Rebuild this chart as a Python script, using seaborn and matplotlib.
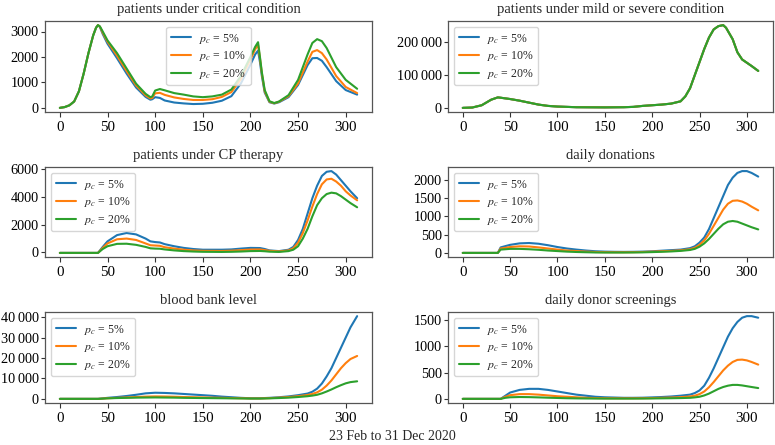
import numpy as np
import pandas as pd
import matplotlib
matplotlib.use("Agg")
import matplotlib.pyplot as plt
import seaborn as sns
from matplotlib.ticker import FuncFormatter

# ---------------- data ----------------
labels = [r"$p_c$ = 5%", r"$p_c$ = 10%", r"$p_c$ = 20%"]

crit_days = [0, 5, 10, 15, 20, 25, 30, 35, 38, 40, 42, 45, 50, 60, 70, 80, 90, 95, 97, 100, 105, 110, 120,
             130, 140, 150, 160, 170, 180, 190, 200, 205, 208, 210, 212, 215, 220, 225, 230, 240, 250, 260,
             265, 270, 275, 280, 290, 300, 312]
crit_5 = [0, 30, 100, 250, 650, 1350, 2150, 2850, 3150, 3250, 3180, 2900, 2520, 1950, 1350, 800, 430, 320,
          340, 420, 390, 290, 210, 175, 150, 160, 200, 280, 460, 960, 1700, 2100, 2250, 1800, 1250, 600,
          220, 170, 220, 420, 900, 1680, 1950, 1960, 1850, 1600, 1050, 700, 520]
crit_10 = [0, 30, 100, 250, 650, 1350, 2150, 2850, 3150, 3250, 3190, 2950, 2600, 2050, 1450, 880, 490, 370,
           390, 570, 590, 510, 410, 350, 310, 310, 340, 430, 620, 1130, 1900, 2300, 2480, 1950, 1350, 650,
           240, 180, 240, 460, 960, 1820, 2200, 2270, 2150, 1900, 1250, 820, 580]
crit_20 = [0, 30, 100, 250, 650, 1350, 2150, 2850, 3150, 3250, 3200, 3000, 2650, 2150, 1550, 950, 550, 420,
           450, 680, 740, 690, 580, 520, 450, 420, 450, 520, 720, 1250, 2000, 2400, 2580, 2000, 1400, 700,
           260, 190, 250, 500, 1100, 2100, 2550, 2700, 2620, 2350, 1600, 1100, 750]

mild_days = [0, 10, 20, 30, 37, 40, 50, 60, 70, 80, 90, 100, 120, 150, 170, 180, 190, 200, 210, 220, 230,
             235, 240, 245, 250, 255, 260, 265, 270, 275, 278, 285, 290, 295, 300, 305, 312]
mild_all = [0, 1000, 8000, 25000, 32000, 31000, 27000, 22000, 16000, 10000, 6000, 4000, 2000, 1500, 2000,
            3000, 6000, 8000, 10000, 13000, 20000, 35000, 60000, 100000, 140000, 180000, 215000, 240000,
            250000, 253000, 245000, 210000, 170000, 148000, 138000, 128000, 113000]

cp_days = [0, 40, 45, 50, 60, 70, 80, 90, 95, 100, 105, 110, 120, 130, 140, 150, 170, 180, 190, 200, 210,
           215, 220, 230, 240, 245, 250, 255, 260, 265, 270, 275, 280, 285, 290, 295, 300, 305, 312]
cp_5 = [-30, -30, 400, 800, 1250, 1400, 1300, 1000, 800, 750, 720, 600, 450, 330, 250, 200, 200, 220, 280,
        330, 320, 250, 150, 100, 200, 400, 900, 1700, 2800, 3900, 4800, 5500, 5800, 5850, 5600, 5200,
        4800, 4400, 3900]
cp_10 = [-30, -30, 330, 650, 950, 1000, 900, 650, 520, 500, 480, 380, 280, 200, 150, 120, 110, 130, 170,
         210, 220, 170, 120, 80, 150, 300, 700, 1400, 2300, 3300, 4200, 4900, 5250, 5300, 5100, 4800,
         4400, 4100, 3750]
cp_20 = [-30, -30, 250, 450, 620, 630, 550, 400, 300, 280, 270, 220, 150, 100, 70, 50, 40, 50, 70, 100,
         110, 90, 60, 40, 100, 200, 450, 1000, 1700, 2600, 3400, 3900, 4200, 4300, 4250, 4050, 3800, 3550,
         3250]

don_days = [0, 37, 40, 50, 60, 70, 80, 90, 100, 110, 120, 130, 140, 150, 160, 170, 180, 190, 200, 210, 220,
            230, 240, 245, 250, 255, 260, 265, 270, 275, 280, 285, 290, 295, 300, 305, 312]
don_5 = [0, 0, 150, 220, 260, 270, 250, 210, 160, 120, 90, 65, 45, 35, 30, 28, 30, 35, 45, 60, 75, 90, 130,
         180, 280, 420, 650, 950, 1250, 1550, 1850, 2050, 2180, 2230, 2230, 2180, 2080]
don_10 = [0, 0, 120, 160, 180, 175, 150, 120, 90, 65, 50, 35, 25, 20, 18, 18, 20, 25, 35, 45, 55, 70, 100,
          140, 220, 340, 520, 740, 960, 1180, 1340, 1420, 1430, 1400, 1340, 1260, 1160]
don_20 = [0, 0, 90, 110, 110, 100, 85, 65, 50, 35, 25, 18, 12, 10, 10, 10, 12, 15, 22, 30, 40, 55, 80, 110,
          170, 260, 380, 520, 660, 780, 850, 870, 850, 800, 750, 700, 640]

bank_days = [0, 40, 50, 60, 70, 80, 90, 100, 110, 120, 130, 140, 150, 160, 170, 180, 190, 200, 210, 220, 230,
             240, 250, 260, 265, 270, 275, 280, 285, 290, 295, 300, 305, 312]
bank_5 = [0, 0, 500, 900, 1400, 2000, 2700, 3000, 2900, 2700, 2400, 2100, 1800, 1500, 1100, 800, 500, 300,
          300, 500, 800, 1200, 1800, 2600, 3500, 5000, 7500, 11000, 15000, 20000, 25000, 30000, 35000, 40500]
bank_10 = [0, 0, 300, 500, 700, 900, 1100, 1200, 1150, 1050, 900, 800, 700, 600, 500, 400, 300, 200, 200,
           350, 600, 900, 1300, 1900, 2400, 3200, 4500, 6500, 9000, 12000, 15000, 17500, 19500, 21000]
bank_20 = [0, 0, 250, 400, 500, 600, 650, 700, 650, 600, 500, 450, 400, 350, 300, 250, 200, 150, 150, 250,
           400, 600, 900, 1300, 1600, 2000, 2700, 3600, 4600, 5700, 6700, 7600, 8200, 8600]

scr_days = [0, 40, 45, 50, 60, 70, 80, 90, 100, 110, 120, 130, 140, 150, 160, 170, 180, 190, 200, 210, 220,
            230, 240, 245, 250, 255, 260, 265, 270, 275, 280, 285, 290, 295, 300, 305, 312]
scr_5 = [0, 0, 60, 120, 170, 190, 190, 170, 140, 110, 80, 60, 40, 30, 25, 20, 20, 22, 28, 35, 45, 60, 80,
         110, 160, 250, 400, 580, 780, 980, 1180, 1340, 1460, 1540, 1570, 1570, 1540]
scr_10 = [0, 0, 40, 70, 90, 90, 80, 65, 50, 40, 30, 20, 15, 12, 11, 10, 11, 12, 15, 20, 25, 32, 45, 60, 90,
          140, 220, 320, 430, 540, 630, 700, 740, 745, 730, 700, 650]
scr_20 = [0, 0, 20, 30, 35, 33, 28, 22, 17, 12, 9, 7, 6, 5, 5, 5, 5, 6, 8, 10, 12, 15, 20, 28, 40, 65, 100,
          145, 190, 225, 250, 265, 265, 255, 240, 225, 205]

titles = ["patients under critical condition", "patients under mild or severe condition",
          "patients under CP therapy", "daily donations", "blood bank level", "daily donor screenings"]
xticks = [0, 50, 100, 150, 200, 250, 300]
yticks = [
    [0, 1000, 2000, 3000],
    [0, 100000, 200000],
    [0, 2000, 4000, 6000],
    [0, 500, 1000, 1500, 2000],
    [0, 10000, 20000, 30000, 40000],
    [0, 500, 1000, 1500],
]
xlabel_text = "23 Feb to 31 Dec 2020"

# ---------------- style ----------------
sns.set_style("ticks")
plt.rcParams["font.family"] = ["Liberation Serif", "DejaVu Serif"]
plt.rcParams["mathtext.fontset"] = "stix"
palette = sns.color_palette("tab10", 3)


def make_df(days, series):
    frames = []
    for lab, vals in zip(labels, series):
        frames.append(pd.DataFrame({"day": days, "value": vals, "case": lab}))
    return pd.concat(frames, ignore_index=True)


panels = [
    (crit_days, [crit_5, crit_10, crit_20], "upper center"),
    (mild_days, [mild_all, mild_all, mild_all], "upper left"),
    (cp_days, [cp_5, cp_10, cp_20], "upper left"),
    (don_days, [don_5, don_10, don_20], "upper left"),
    (bank_days, [bank_5, bank_10, bank_20], "upper left"),
    (scr_days, [scr_5, scr_10, scr_20], "upper left"),
]

W, H = 775, 445
fig = plt.figure(figsize=(W / 100, H / 100), dpi=100)

col_x = [(45, 372), (448, 773)]
row_y = [(21, 112), (167, 257), (312, 403)]


def fmt(v, pos):
    v = int(round(v))
    if abs(v) >= 10000:
        return f"{v:,}".replace(",", "\u2009")
    return f"{v}"


for i, (days, series, loc) in enumerate(panels):
    r, c = divmod(i, 2)
    x0, x1 = col_x[c]
    y0, y1 = row_y[r]
    ax = fig.add_axes([x0 / W, 1 - y1 / H, (x1 - x0) / W, (y1 - y0) / H])
    df = make_df(days, series)
    sns.lineplot(data=df, x="day", y="value", hue="case", hue_order=labels, palette=palette,
                 ax=ax, linewidth=1.5, errorbar=None, sort=False)
    ax.set_title(titles[i], fontsize=10.5, pad=6)
    ax.set_xlabel("")
    ax.set_ylabel("")
    ax.set_xticks(xticks)
    ax.set_yticks(yticks[i])
    ax.tick_params(axis="x", labelsize=10.8, length=3.5, width=0.8, colors="#333333",
                   labelcolor="black", pad=3)
    ax.tick_params(axis="y", labelsize=10.3, length=3.0, width=0.8, colors="#333333",
                   labelcolor="black", pad=1.5)
    ax.yaxis.set_major_formatter(FuncFormatter(fmt))
    for s in ax.spines.values():
        s.set_visible(True)
        s.set_color("#555555")
        s.set_linewidth(0.9)
    leg = ax.legend(loc=loc, fontsize=8.5, frameon=True, handlelength=1.7, borderpad=0.4,
                    labelspacing=0.3, handletextpad=0.7)
    leg.get_frame().set_edgecolor("#cccccc")

fig.text(392 / W, 1 - 437 / H, xlabel_text, ha="center", va="center", fontsize=10)

fig.savefig("out.png", dpi=100)
